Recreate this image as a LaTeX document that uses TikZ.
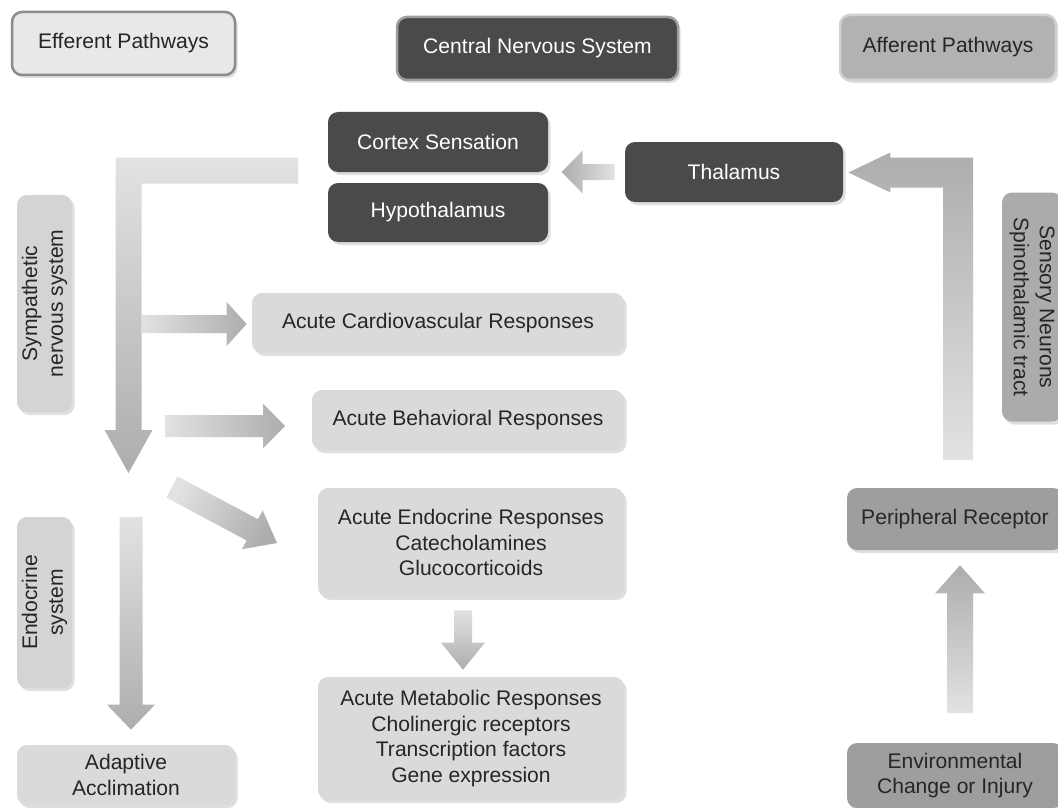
\documentclass[tikz,border=0pt]{standalone}
\usepackage{fontspec}
\setmainfont{Liberation Sans}
\usepackage{tikz}
\usetikzlibrary{calc,shadows}
\definecolor{darkfill}{HTML}{4A4A4A}
\definecolor{midfill}{HTML}{A6A6A6}
\definecolor{lightfill}{HTML}{DADADA}
\definecolor{arrlight}{HTML}{E2E2E2}
\definecolor{arrdark}{HTML}{ADADAD}
\definecolor{txt}{HTML}{262626}
\tikzset{
  sz/.style 2 args={minimum width=#1*0.2mm,minimum height=#2*0.2mm}, % size in px
  box/.style={rounded corners=2mm,inner sep=0pt,align=center,
    font=\fontsize{12}{14.7}\selectfont,
    drop shadow={opacity=0.25,shadow xshift=0.5mm,shadow yshift=-0.6mm}},
  lbox/.style={box,fill=lightfill,text=txt},   % response box
  dbox/.style={box,fill=darkfill,text=white},  % CNS box
  mbox/.style={box,fill=midfill,text=txt},     % afferent box
  toR/.style={left color=arrlight,right color=arrdark},
  toL/.style={left color=arrdark,right color=arrlight},
  toD/.style={top color=arrlight,bottom color=arrdark},
  toU/.style={top color=arrdark,bottom color=arrlight},
}
\newcommand{\barrow}[6][]{% from, to, shaft half, head half, head length (px)
  \coordinate (ba) at ($(#3)!#6*0.2mm!(#2)$);
  \shade[#1] ($(#2)!#4*0.2mm!90:(#3)$) -- ($(ba)!#4*0.2mm!-90:(#2)$)
    -- ($(ba)!#5*0.2mm!-90:(#2)$) -- (#3) -- ($(ba)!#5*0.2mm!90:(#2)$)
    -- ($(ba)!#4*0.2mm!90:(#2)$) -- ($(#2)!#4*0.2mm!-90:(#3)$) -- cycle;
}

\begin{document}
\begin{tikzpicture}[x=0.2mm,y=-0.2mm]
  \useasboundingbox (0,0) rectangle (1058,808);
  \fill[white] (0,0) rectangle (1058,808);

  % headers
  \node[lbox,sz={223}{63},fill=black!9,draw=black!45,line width=0.5mm] (eff) at (123.5,43.5) {Efferent Pathways};
  \node[dbox,sz={281}{63},draw=black!38,line width=0.5mm] (cns) at (537.5,48.5) {Central Nervous System};
  \node[mbox,sz={216}{65},fill=black!30,draw=black!18,line width=0.5mm] (aff) at (948,47.5) {Afferent Pathways};

  % CNS
  \node[dbox,sz={220}{60}] (cortex) at (438,142) {Cortex Sensation};
  \node[dbox,sz={220}{59}] (hypo) at (438,212.5) {Hypothalamus};
  \node[dbox,sz={218}{60}] (thal) at (734,172) {Thalamus};

  % efferent side
  \node[lbox,sz={217}{55},rotate=90,fill=black!17] (symp) at (44.5,303.5) {Sympathetic\\nervous system};
  \node[lbox,sz={171}{55},rotate=90,fill=black!17] (endosys) at (44.5,602.5) {Endocrine\\system};
  \node[lbox,sz={372}{60}] (cardio) at (438,323) {Acute Cardiovascular Responses};
  \node[lbox,sz={312}{60}] (behav) at (468,420) {Acute Behavioral Responses};
  \node[lbox,sz={306}{109}] (endo) at (471,542.5) {Acute Endocrine Responses\\Catecholamines\\Glucocorticoids};
  \node[lbox,sz={306}{123}] (metab) at (471,738.5) {Acute Metabolic Responses\\Cholinergic receptors\\Transcription factors\\Gene expression};
  \node[lbox,sz={218}{60}] (adapt) at (126,775) {Adaptive\\Acclimation};

  % afferent side
  \node[mbox,sz={229}{60},rotate=-90,fill=black!33] (sens) at (1032,307) {Sensory Neurons\\Spinothalamic tract};
  \node[mbox,sz={216}{62},fill=black!38] (periph) at (955,519) {Peripheral Receptor};
  \node[mbox,sz={216}{65},fill=black!38] (env) at (955,775.5) {Environmental\\Change or Injury};

  % free ends
  \coordinate (efftail) at (298,170.5);
  \coordinate (effcorner) at (128.5,170.5);
  \coordinate (efftip) at (128.5,473);
  \coordinate (afftail) at (958,460);
  \coordinate (affcorner) at (958,172.5);
  \coordinate (afftip) at ($(thal.east)+(5,0.5)$);
  \coordinate (thalout) at ($(thal.west)+(-10,0)$);
  \coordinate (thalin) at ($(thal.west)+(-63,0)$);
  \coordinate (cvtail) at (142,324);
  \coordinate (cvtip) at ($(cardio.west)+(-5,1)$);
  \coordinate (bhtail) at (165,426);
  \coordinate (bhtip) at (285,426);
  \coordinate (ectail) at (172,487);
  \coordinate (ectip) at (277,543);
  \coordinate (estail) at (131,517);
  \coordinate (estip) at ($(adapt.north)+(5,-15)$);
  \coordinate (mbtail) at ($(endo.south)+(-8,13)$);
  \coordinate (mbtip) at ($(metab.north)+(-8,-7)$);
  \coordinate (pvtail) at (960,713);
  \coordinate (pvtip) at ($(periph.south)+(5,15)$);

  % L arrows
  \shade[toD] ($(efftail)+(0,-13)$) -- ($(effcorner)+(-13,-13)$) -- ($(efftip)+(-13,-43)$)
    -- ($(efftip)+(-24,-43)$) -- (efftip) -- ($(efftip)+(24,-43)$) -- ($(efftip)+(13,-43)$)
    -- ($(effcorner)+(13,13)$) -- ($(efftail)+(0,13)$) -- cycle;
  \shade[toU] ($(afftail)+(-15,0)$) -- ($(affcorner)+(-15,15)$) -- ($(afftip)+(42,15)$)
    -- ($(afftip)+(42,20)$) -- (afftip) -- ($(afftip)+(42,-20)$) -- ($(afftip)+(42,-15)$)
    -- ($(affcorner)+(15,-15)$) -- ($(afftail)+(15,0)$) -- cycle;

  % straight arrows
  \barrow[toL]{thalout}{thalin}{8}{21.5}{21}
  \barrow[toR]{cvtail}{cvtip}{9}{22}{20}
  \barrow[toR]{bhtail}{bhtip}{11}{22.5}{22}
  \barrow[toD,shading angle=62]{ectail}{ectip}{12}{22}{28}
  \barrow[toD]{estail}{estip}{11.5}{24}{25}
  \barrow[toD]{mbtail}{mbtip}{9}{22}{27}
  \barrow[toU]{pvtail}{pvtip}{13}{25}{28}
\end{tikzpicture}
\end{document}
